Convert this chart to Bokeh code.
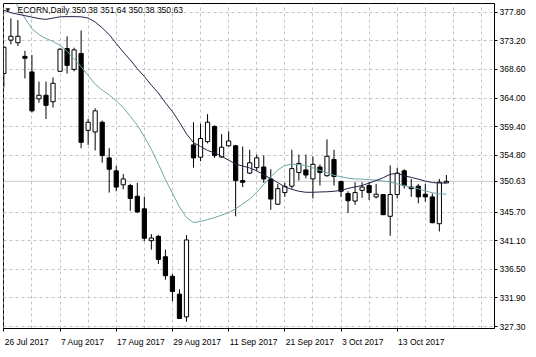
from bokeh.plotting import figure
from bokeh.models import (ColumnDataSource, FixedTicker, Label, Span, Range1d,
                          PrintfTickFormatter)
from bokeh.embed import file_html
from bokeh.resources import INLINE

symbol = "ECORN,Daily"

opens = [367.94, 373.30, 372.89, 370.70, 368.20, 363.87, 364.45, 363.41, 368.30, 371.95,
         368.61, 371.17, 358.82, 358.56, 360.12, 354.39, 352.31, 350.07, 349.96, 348.24,
         346.21, 341.10, 341.79, 338.51, 335.38, 332.51, 328.86, 356.48, 354.50, 357.00,
         359.45, 354.54, 356.33, 356.33, 350.75, 351.95, 352.82, 352.93, 351.01, 346.95,
         348.82, 349.85, 352.04, 352.46, 351.01, 352.93, 351.53, 354.14, 350.59, 348.67,
         347.46, 349.18, 349.96, 348.13, 348.51, 345.01, 348.51, 352.31, 349.70, 349.85,
         348.56, 348.13, 343.82, 350.38]
highs = [372.30, 376.80, 376.53, 371.58, 370.91, 366.64, 366.64, 367.31, 372.00, 373.92,
         372.10, 374.86, 360.64, 362.36, 360.39, 355.95, 353.09, 351.79, 350.23, 350.39,
         348.13, 342.15, 342.04, 339.65, 335.74, 333.29, 341.99, 360.12, 359.86, 361.42,
         359.60, 358.20, 358.67, 356.48, 356.22, 355.70, 354.92, 354.76, 352.57, 350.23,
         350.39, 355.70, 354.92, 354.92, 354.65, 353.36, 357.36, 355.70, 350.75, 349.03,
         350.48, 350.48, 350.48, 350.23, 348.60, 353.20, 352.82, 352.57, 351.01, 350.23,
         350.23, 348.67, 351.01, 351.64]
lows = [365.75, 372.63, 372.36, 367.16, 361.69, 363.25, 360.64, 362.47, 368.25, 367.94,
        368.30, 355.95, 356.48, 355.59, 353.61, 348.82, 349.03, 349.34, 345.90, 345.54,
        341.01, 339.65, 337.35, 334.85, 331.36, 328.55, 328.08, 352.82, 353.87, 356.73,
        354.39, 354.39, 356.22, 345.01, 349.70, 351.79, 352.31, 350.39, 346.06, 346.84,
        348.13, 349.45, 350.75, 351.10, 347.88, 349.96, 351.37, 349.96, 348.13, 345.54,
        346.84, 347.98, 347.62, 347.88, 345.20, 341.88, 347.88, 349.45, 348.13, 347.10,
        347.35, 343.90, 342.57, 350.38]
closes = [372.16, 373.92, 373.92, 370.39, 361.95, 364.45, 362.83, 366.38, 371.85, 369.24,
          371.74, 356.89, 360.12, 361.95, 354.76, 352.57, 349.70, 351.01, 347.88, 345.70,
          341.48, 341.52, 338.08, 335.47, 332.93, 328.60, 341.21, 354.39, 357.51, 360.12,
          354.76, 356.11, 357.11, 350.75, 350.48, 353.61, 354.39, 351.01, 347.78, 349.45,
          349.81, 352.67, 353.51, 351.64, 353.36, 352.04, 354.65, 351.42, 349.03, 347.51,
          348.82, 349.70, 348.82, 348.56, 345.27, 348.51, 351.95, 349.96, 349.45, 348.13,
          348.13, 343.98, 350.48, 350.63]

# moving averages (slow = dark line, fast = teal line)
ma_slow = [378.10, 377.71, 377.47, 377.24, 377.00, 376.77, 376.64, 376.85, 377.05, 377.08,
           377.08, 377.05, 376.85, 376.22, 375.28, 374.19, 372.78, 371.38, 370.13, 368.72,
           367.47, 366.06, 364.81, 363.25, 361.84, 360.12, 358.25, 356.84, 356.22, 355.59,
           355.20, 354.65, 354.03, 353.40, 353.09, 352.78, 352.31, 351.68, 351.06, 350.43,
           349.73, 349.34, 349.03, 348.87, 348.87, 348.92, 348.95, 349.03, 349.18, 349.49,
           349.73, 349.96, 350.35, 350.75, 351.21, 351.76, 351.92, 351.53, 351.26, 350.98,
           350.67, 350.43, 350.35, 350.35]
ma_fast = [381.85, 380.44, 378.72, 376.85, 375.13, 374.19, 373.56, 373.10, 372.47, 371.53,
           370.28, 369.03, 367.63, 366.22, 365.28, 364.50, 363.56, 362.47, 361.06, 359.65,
           357.78, 355.75, 353.40, 350.90, 348.71, 346.52, 344.81, 344.02, 344.18, 344.49,
           344.81, 345.20, 345.59, 346.21, 346.99, 347.78, 348.87, 350.12, 351.37, 352.46,
           353.17, 353.36, 353.32, 353.17, 352.78, 352.39, 352.00, 351.60, 351.37, 351.14,
           351.01, 350.98, 350.90, 350.82, 350.67, 350.51, 350.20, 349.96, 349.65, 349.42,
           349.10, 348.79, 348.63, 348.56]

date_tick_index = [0, 8, 16, 24, 32, 40, 48, 56]
date_tick_labels = ["26 Jul 2017", "7 Aug 2017", "17 Aug 2017", "29 Aug 2017",
                    "11 Sep 2017", "21 Sep 2017", "3 Oct 2017", "13 Oct 2017"]
price_ticks = [327.30, 331.90, 336.50, 341.10, 345.70, 354.80, 359.40, 364.00,
               368.60, 373.20, 377.80]

FONT = "Liberation Sans"
FS_PX = 8.5
FS = "%.1fpx" % FS_PX

# layout (pixels)
W, H = 528, 349
LB, TB, RB, BB = 3, 3, 31, 20
frame_w = W - LB - RB
frame_h = H - TB - BB
X0, X1 = -0.05, 69.85
Y0, Y1 = 326.99, 379.19
px_per_bar = frame_w / (X1 - X0)
price_per_px = (Y1 - Y0) / frame_h

# approximate Arial/Liberation advance widths (em) to left-align date labels
_cw = {" ": .278, ".": .278, "J": .5, "A": .667, "S": .667, "O": .778, "u": .556,
       "l": .222, "g": .556, "e": .556, "p": .556, "c": .5, "t": .278}
def text_w(s):
    return sum(_cw.get(ch, .556) for ch in s) * FS_PX

label_pos = [i + (text_w(s) / 2 + 1) / px_per_bar for i, s in zip(date_tick_index, date_tick_labels)]

n = len(opens)
idx = list(range(n))
src = ColumnDataSource(dict(
    x=idx, high=highs, low=lows,
    top=[max(o, c) for o, c in zip(opens, closes)],
    bottom=[min(o, c) for o, c in zip(opens, closes)],
    fill=["white" if c >= o else "black" for o, c in zip(opens, closes)],
))

p = figure(width=W, height=H, output_backend="svg", toolbar_location=None,
           x_range=Range1d(X0, X1), y_range=Range1d(Y0, Y1),
           y_axis_location="right",
           min_border_left=LB, min_border_top=TB, min_border_right=RB, min_border_bottom=BB)
p.background_fill_color = "white"
p.border_fill_color = "white"
p.outline_line_color = "black"
p.outline_line_width = 1

# grid
p.xgrid.ticker = FixedTicker(ticks=list(range(0, 72, 4)))
p.ygrid.ticker = FixedTicker(ticks=price_ticks)
for g in (p.xgrid, p.ygrid):
    g.grid_line_color = "#c4c4c4"
    g.grid_line_dash = "3 3"
    g.grid_line_width = 1

# current price line
p.add_layout(Span(location=closes[-1], dimension="width", line_color="#c8c8c8",
                  line_width=1, level="underlay"))

# candles
p.segment(x0="x", y0="high", x1="x", y1="low", source=src, line_color="black", line_width=1)
p.vbar(x="x", width=0.6, top="top", bottom="bottom", source=src,
       fill_color="fill", line_color="black", line_width=1)

# moving averages
p.line(idx, ma_fast, line_color="#6fa6a6", line_width=1)
p.line(idx, ma_slow, line_color="#23234a", line_width=1)

# axes
ya = p.yaxis[0]
ya.ticker = FixedTicker(ticks=price_ticks + [closes[-1]])
ya.formatter = PrintfTickFormatter(format="%.2f")
ya.major_tick_out = 3
ya.major_tick_line_color = "black"
ya.minor_tick_line_color = None

xa = p.xaxis[0]
xa.ticker = FixedTicker(ticks=label_pos, minor_ticks=date_tick_index)
xa.major_label_overrides = {pos: s for pos, s in zip(label_pos, date_tick_labels)}
xa.major_tick_line_color = None
xa.minor_tick_line_color = "black"
xa.minor_tick_out = 3
xa.minor_tick_in = 0
for ax in (xa, ya):
    ax.axis_line_color = "black"
    ax.major_tick_in = 0
    ax.major_label_text_font = FONT
    ax.major_label_text_font_size = FS
    ax.major_label_text_color = "black"
    ax.major_label_standoff = 2

# header (6 px below the top of the chart area)
header_y = Y1 - 6.5 * price_per_px
p.add_layout(Label(x=2, y=header_y, x_units="screen", y_units="data",
                   text="\u25bc", text_font="DejaVu Sans", text_font_size="6px",
                   text_color="#222222", text_baseline="middle"))
p.add_layout(Label(x=14, y=header_y, x_units="screen", y_units="data",
                   text="%s  %.2f %.2f %.2f %.2f" % (symbol, opens[-1], highs[-1], lows[-1], closes[-1]),
                   text_font=FONT, text_font_size=FS, text_color="black",
                   text_baseline="middle"))

open("out.html", "w").write(file_html(p, INLINE))
